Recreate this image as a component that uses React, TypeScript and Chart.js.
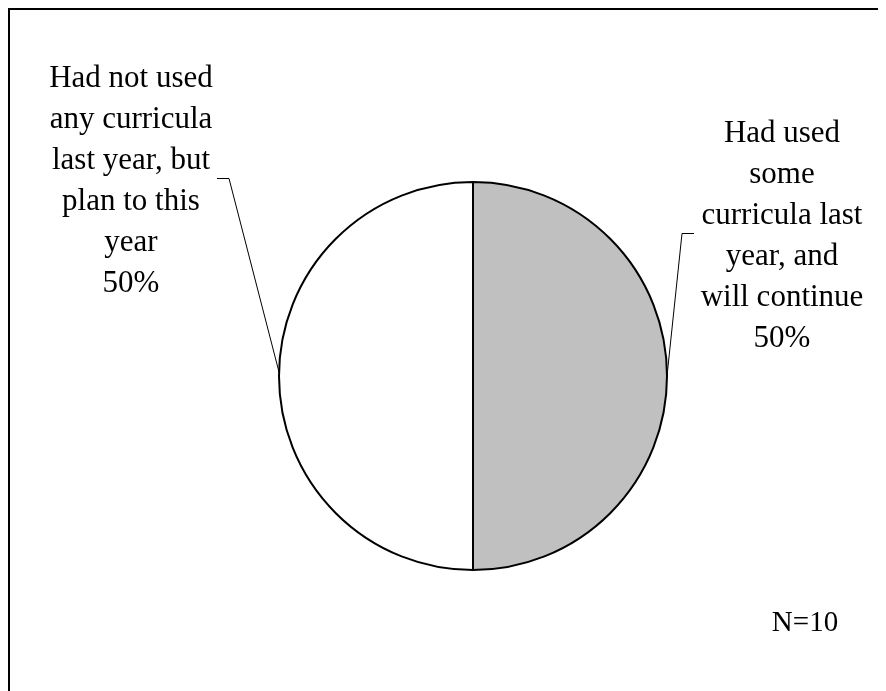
import React, { useEffect, useRef } from "react";
import { Chart, registerables } from "chart.js";

Chart.register(...registerables);

const categories: string[][] = [
  ["Had used", "some", "curricula last", "year, and", "will continue"],
  ["Had not used", "any curricula", "last year, but", "plan to this", "year"],
];
const values: number[] = [5, 5];
const sliceColors: string[] = ["#c0c0c0", "#ffffff"];
const noteText = "N=10";

const FONT = '"Liberation Serif", "Times New Roman", serif';

const labelPlugin = {
  id: "pieLabels",
  afterDraw(chart: any) {
    const ctx = chart.ctx as CanvasRenderingContext2D;
    const meta = chart.getDatasetMeta(0);
    const total = values.reduce((a, b) => a + b, 0);
    const place = [
      { cx: 772, y0: 132, hookY: 223, hookX: 684, dir: -1 },
      { cx: 121, y0: 77, hookY: 168, hookX: 207, dir: 1 },
    ];
    const lh = 41;
    ctx.save();
    ctx.fillStyle = "#000";
    ctx.textAlign = "center";
    ctx.textBaseline = "alphabetic";
    ctx.font = `31px ${FONT}`;
    meta.data.forEach((arc: any, i: number) => {
      const p = place[i];
      const lines = [...categories[i], `${Math.round((values[i] / total) * 100)}%`];
      lines.forEach((t, k) => ctx.fillText(t, p.cx, p.y0 + k * lh));
      const mid = (arc.startAngle + arc.endAngle) / 2;
      const ex = arc.x + Math.cos(mid) * arc.outerRadius;
      const ey = arc.y + Math.sin(mid) * arc.outerRadius - (i === 1 ? 4 : 0);
      ctx.beginPath();
      ctx.lineWidth = 1;
      ctx.strokeStyle = "#000";
      ctx.moveTo(p.hookX, p.hookY + 0.5);
      ctx.lineTo(p.hookX + p.dir * 12, p.hookY + 0.5);
      ctx.lineTo(ex, ey);
      ctx.stroke();
    });
    ctx.font = `29px ${FONT}`;
    ctx.fillText(noteText, 795, 621);
    ctx.restore();
  },
};

export default function App() {
  const ref = useRef<HTMLCanvasElement | null>(null);
  useEffect(() => {
    if (!ref.current) return;
    const chart = new Chart(ref.current, {
      type: "pie",
      data: {
        labels: categories.map((c) => c.join(" ")),
        datasets: [
          {
            data: values,
            backgroundColor: sliceColors,
            borderColor: "#000",
            borderWidth: 2,
          },
        ],
      },
      options: {
        animation: false,
        responsive: false,
        radius: 194,
        layout: { padding: { left: 50, right: 0, top: 51, bottom: 0 } },
        plugins: { legend: { display: false }, tooltip: { enabled: false } },
      } as any,
      plugins: [labelPlugin],
    });
    return () => chart.destroy();
  }, []);
  return (
    <div
      style={{
        width: 878,
        height: 683,
        borderTop: "2px solid #000",
        borderLeft: "2px solid #000",
        boxSizing: "border-box",
        overflow: "hidden",
        background: "#fff",
      }}
    >
      <canvas ref={ref} width={876} height={681} style={{ display: "block" }} />
    </div>
  );
}
